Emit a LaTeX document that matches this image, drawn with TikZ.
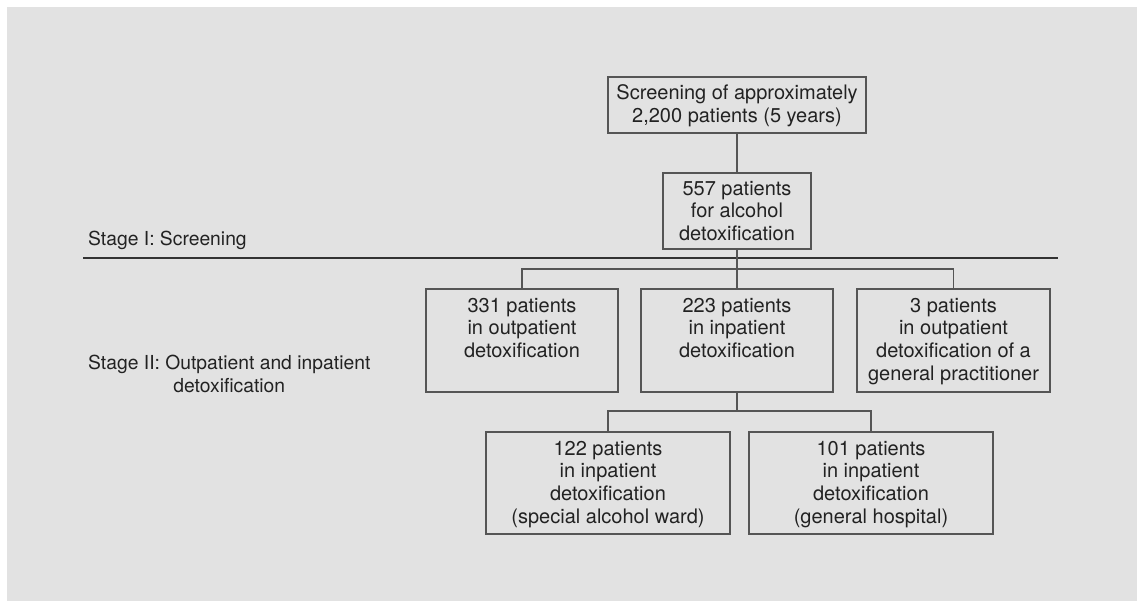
\documentclass[tikz,border=0pt]{standalone}
\usepackage{fontspec}
\setmainfont{TeX Gyre Heros}
\definecolor{bggray}{HTML}{E2E2E2}
\definecolor{linegray}{HTML}{555555}
\definecolor{txt}{HTML}{222222}
\begin{document}
\begin{tikzpicture}[x=1pt,y=-1pt,
  every node/.style={text=txt, font=\fontsize{20pt}{22.7pt}\selectfont},
  box/.style={draw=linegray, line width=1.3pt, inner sep=0pt},
  boxtext/.style={anchor=north, inner sep=0pt, align=center},
  stagetext/.style={inner sep=0pt, font=\fontsize{19.3pt}{22.7pt}\selectfont},
  conn/.style={draw=linegray, line width=1.3pt},
  sep/.style={draw=black!80, line width=1.1pt}]
\useasboundingbox (0,0) rectangle (1142,601);
\fill[white] (0,0) rectangle (1142,601);
\fill[bggray] (7,7) rectangle (1137,601);

% boxes
\node[box, minimum width=258pt, minimum height=56pt] (top) at (737,105) {};
\node[box, minimum width=148pt, minimum height=76pt] (n557) at (737,211) {};
\node[box, minimum width=192pt, minimum height=103pt] (b331) at (522,340.5) {};
\node[box, minimum width=192pt, minimum height=103pt] (b223) at (737,340.5) {};
\node[box, minimum width=193pt, minimum height=103pt] (b3) at (953.5,340.5) {};
\node[box, minimum width=244pt, minimum height=102pt] (b122) at (608,483) {};
\node[box, minimum width=244pt, minimum height=102pt] (b101) at (871,483) {};

% box texts
\node[boxtext] (ttop) at ([yshift=-8.5pt]top.north) {Screening of approximately\\2,200 patients (5 years)};
\node[boxtext] (t557) at ([yshift=-8.5pt]n557.north) {557 patients\\for alcohol\\detoxification};
\node[boxtext] (t331) at ([yshift=-9.5pt]b331.north) {331 patients\\in outpatient\\detoxification};
\node[boxtext] (t223) at ([yshift=-9.5pt]b223.north) {223 patients\\in inpatient\\detoxification};
\node[boxtext] (t3) at ([yshift=-9.5pt]b3.north) {3 patients\\in outpatient\\detoxification of a\\general practitioner};
\node[boxtext] (t122) at ([yshift=-9.5pt]b122.north) {122 patients\\in inpatient\\detoxification\\(special alcohol ward)};
\node[boxtext] (t101) at ([yshift=-9.5pt]b101.north) {101 patients\\in inpatient\\detoxification\\(general hospital)};

% stage labels and separator
\node[stagetext, anchor=base west] (s1) at (88,246) {Stage I: Screening};
\node[stagetext, anchor=north west, align=center] (s2) at (88,355) {Stage II: Outpatient and inpatient\\detoxification};
\coordinate (sepL) at (83,258);
\coordinate (sepR) at (1058,258);
\draw[sep] (sepL) -- (sepR);

% connectors
\coordinate (j1) at (737,269);
\coordinate (j2) at (737,411);
\draw[conn] (top.south) -- (n557.north);
\draw[conn] (n557.south) -- (j1);
\draw[conn] (j1) -| (b331.north);
\draw[conn] (j1) -| (b3.north);
\draw[conn] (j1) -- (b223.north);
\draw[conn] (b223.south) -- (j2);
\draw[conn] (j2) -| (b122.north);
\draw[conn] (j2) -| (b101.north);
\end{tikzpicture}
\end{document}
